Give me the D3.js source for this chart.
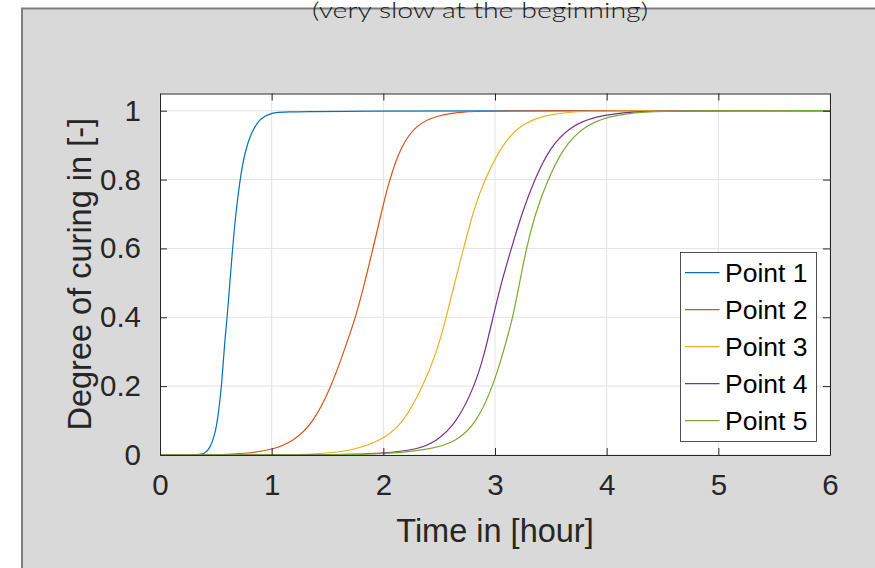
<!DOCTYPE html>
<html>
<head>
<meta charset="utf-8">
<script type="text/javascript" src="https://d3js.org/d3.v7.min.js"></script>
<style>
  body { margin: 0; background: #ffffff; }
  svg { display: block; }
  text { font-family: "Liberation Sans", Arial, Helvetica, sans-serif; fill: #262626; }
</style>
</head>
<body>
<svg width="875" height="568"></svg>
<script type="text/javascript">
// curve readings (time in hours, degree of curing)
const seriesNames = ["Point 1", "Point 2", "Point 3", "Point 4", "Point 5"];
const seriesColors = ["#0072BD", "#D95319", "#EDB120", "#7E2F8E", "#77AC30"];

const p1Time = [0, 0.33, 0.40, 0.447, 0.492, 0.522, 0.552, 0.579, 0.602, 0.626, 0.650, 0.677, 0.716, 0.760, 0.820, 0.894, 1.0, 1.13, 6];
const p1Cure = [0, 0, 0.003, 0.019, 0.058, 0.116, 0.2, 0.329, 0.4, 0.503, 0.6, 0.697, 0.8, 0.881, 0.939, 0.978, 0.994, 1, 1];

const p2Time = [0, 0.5, 0.805, 1.0, 1.193, 1.371, 1.535, 1.640, 1.753, 1.833, 1.908, 1.988, 2.055, 2.155, 2.290, 2.475, 2.743, 3.0, 6];
const p2Cure = [0, 0, 0.005, 0.015, 0.039, 0.092, 0.2, 0.295, 0.4, 0.5, 0.6, 0.712, 0.8, 0.895, 0.958, 0.987, 0.998, 1, 1];

const p3Time = [0, 1.1, 1.40, 1.70, 2.0, 2.176, 2.355, 2.475, 2.564, 2.639, 2.718, 2.808, 2.905, 3.085, 3.270, 3.489, 3.787, 4.1, 6];
const p3Cure = [0, 0, 0.003, 0.01, 0.044, 0.092, 0.2, 0.295, 0.4, 0.5, 0.6, 0.711, 0.8, 0.915, 0.968, 0.99, 0.999, 1, 1];

const p4Time = [0, 1.6, 2.0, 2.296, 2.475, 2.654, 2.818, 2.907, 2.982, 3.056, 3.146, 3.250, 3.354, 3.488, 3.667, 3.905, 4.233, 4.6, 6];
const p4Cure = [0, 0, 0.005, 0.015, 0.039, 0.092, 0.2, 0.295, 0.4, 0.5, 0.6, 0.711, 0.8, 0.891, 0.954, 0.985, 0.998, 1, 1];

const p5Time = [0, 1.7, 2.0, 2.415, 2.654, 2.833, 2.982, 3.071, 3.161, 3.220, 3.280, 3.369, 3.474, 3.608, 3.786, 4.025, 4.322, 4.7, 6];
const p5Cure = [0, 0, 0.003, 0.015, 0.039, 0.092, 0.2, 0.295, 0.4, 0.5, 0.6, 0.711, 0.8, 0.891, 0.954, 0.985, 0.998, 1, 1];

const xTicks = [0, 1, 2, 3, 4, 5, 6];
const yTicks = [0, 0.2, 0.4, 0.6, 0.8, 1];

const titleText = "(very slow at the beginning)";
const xLabel = "Time in [hour]";
const yLabel = "Degree of curing in [-]";

const times = [p1Time, p2Time, p3Time, p4Time, p5Time];
const cures = [p1Cure, p2Cure, p3Cure, p4Cure, p5Cure];
const series = seriesNames.map((name, i) => ({
  name: name,
  color: seriesColors[i],
  values: times[i].map((t, j) => ({ t: t, v: cures[i][j] }))
}));

const svg = d3.select("svg");

// gray figure panel
svg.append("rect")
  .attr("x", 22).attr("y", 8.5)
  .attr("width", 900).attr("height", 600)
  .style("fill", "#d9d9d9")
  .style("stroke", "#7f7f7f")
  .style("stroke-width", 2);

// title, cut at the top like in the original
svg.append("text")
  .attr("x", 480).attr("y", 17.5)
  .attr("text-anchor", "middle")
  .attr("textLength", 336)
  .attr("lengthAdjust", "spacingAndGlyphs")
  .style("font-family", "Lato, 'Open Sans', sans-serif")
  .style("font-weight", 300)
  .style("font-size", "22px")
  .style("fill", "#1a1a1a")
  .text(titleText);

const plotLeft = 160, plotRight = 830, plotTop = 93.5, plotBottom = 455;

const x = d3.scaleLinear().domain([0, 6]).range([plotLeft, plotRight]);
const y = d3.scaleLinear().domain([0, 1.05]).range([plotBottom, plotTop]);

// plot background
svg.append("rect")
  .attr("x", plotLeft).attr("y", plotTop)
  .attr("width", plotRight - plotLeft).attr("height", plotBottom - plotTop)
  .style("fill", "#ffffff");

// grid
const grid = svg.append("g");
grid.selectAll("line.gx").data(xTicks).enter().append("line")
  .attr("class", "gx")
  .attr("x1", d => x(d)).attr("x2", d => x(d))
  .attr("y1", plotTop).attr("y2", plotBottom)
  .style("stroke", "#e3e3e3").style("stroke-width", 1);
grid.selectAll("line.gy").data(yTicks).enter().append("line")
  .attr("class", "gy")
  .attr("x1", plotLeft).attr("x2", plotRight)
  .attr("y1", d => y(d)).attr("y2", d => y(d))
  .style("stroke", "#e3e3e3").style("stroke-width", 1);

// curves
const line = d3.line()
  .x(d => x(d.t))
  .y(d => y(d.v))
  .curve(d3.curveBasis);

svg.append("g").selectAll("path")
  .data(series)
  .enter()
  .append("path")
  .attr("d", d => line(d.values))
  .style("fill", "none")
  .style("stroke", d => d.color)
  .style("stroke-width", 1.2);

// axes, ticks pointing inward, box on
function styleAxis(g) {
  g.select(".domain").style("stroke", "#262626").style("stroke-width", 1);
  g.selectAll(".tick line").style("stroke", "#262626").style("stroke-width", 1);
}

svg.append("g")
  .attr("transform", `translate(0,${plotBottom})`)
  .call(d3.axisBottom(x).tickValues(xTicks).tickSize(-7).tickPadding(19).tickSizeOuter(0).tickFormat(d3.format("d")))
  .call(styleAxis)
  .call(g => g.selectAll("text").style("font-size", "29.5px").style("fill", "#262626").style("font-family", "'Liberation Sans', Arial, sans-serif"));

svg.append("g")
  .attr("transform", `translate(0,${plotTop})`)
  .call(d3.axisTop(x).tickValues(xTicks).tickSize(-7).tickSizeOuter(0).tickFormat(""))
  .call(styleAxis);

svg.append("g")
  .attr("transform", `translate(${plotLeft},0)`)
  .call(d3.axisLeft(y).tickValues(yTicks).tickSize(-7).tickPadding(19).tickSizeOuter(0).tickFormat(d => d === 0 || d === 1 ? d3.format("d")(d) : d3.format(".1f")(d)))
  .call(styleAxis)
  .call(g => g.selectAll("text").style("font-size", "29.5px").style("fill", "#262626").style("font-family", "'Liberation Sans', Arial, sans-serif"));

svg.append("g")
  .attr("transform", `translate(${plotRight},0)`)
  .call(d3.axisRight(y).tickValues(yTicks).tickSize(-7).tickSizeOuter(0).tickFormat(""))
  .call(styleAxis);

// axis labels
svg.append("text")
  .attr("x", (plotLeft + plotRight) / 2).attr("y", 541.5)
  .attr("text-anchor", "middle")
  .style("font-size", "32.5px")
  .text(xLabel);

svg.append("text")
  .attr("transform", `translate(91,${(plotTop + plotBottom) / 2}) rotate(-90)`)
  .attr("text-anchor", "middle")
  .style("font-size", "32.5px")
  .text(yLabel);

// legend
const legend = svg.append("g");
legend.append("rect")
  .attr("x", 680.5).attr("y", 252.5)
  .attr("width", 136).attr("height", 189)
  .style("fill", "#ffffff")
  .style("stroke", "#262626")
  .style("stroke-width", 0.8);

const rows = legend.selectAll("g.row")
  .data(series)
  .enter().append("g")
  .attr("class", "row")
  .attr("transform", (d, i) => `translate(0,${272.7 + i * 37})`);
rows.append("line")
  .attr("x1", 685).attr("x2", 719.5)
  .attr("y1", 0).attr("y2", 0)
  .style("stroke", d => d.color)
  .style("stroke-width", 1.2);
rows.append("text")
  .attr("x", 725).attr("y", 0)
  .attr("dy", "0.36em")
  .style("font-size", "26.5px")
  .style("fill", "#000000")
  .text(d => d.name);
</script>
</body>
</html>
